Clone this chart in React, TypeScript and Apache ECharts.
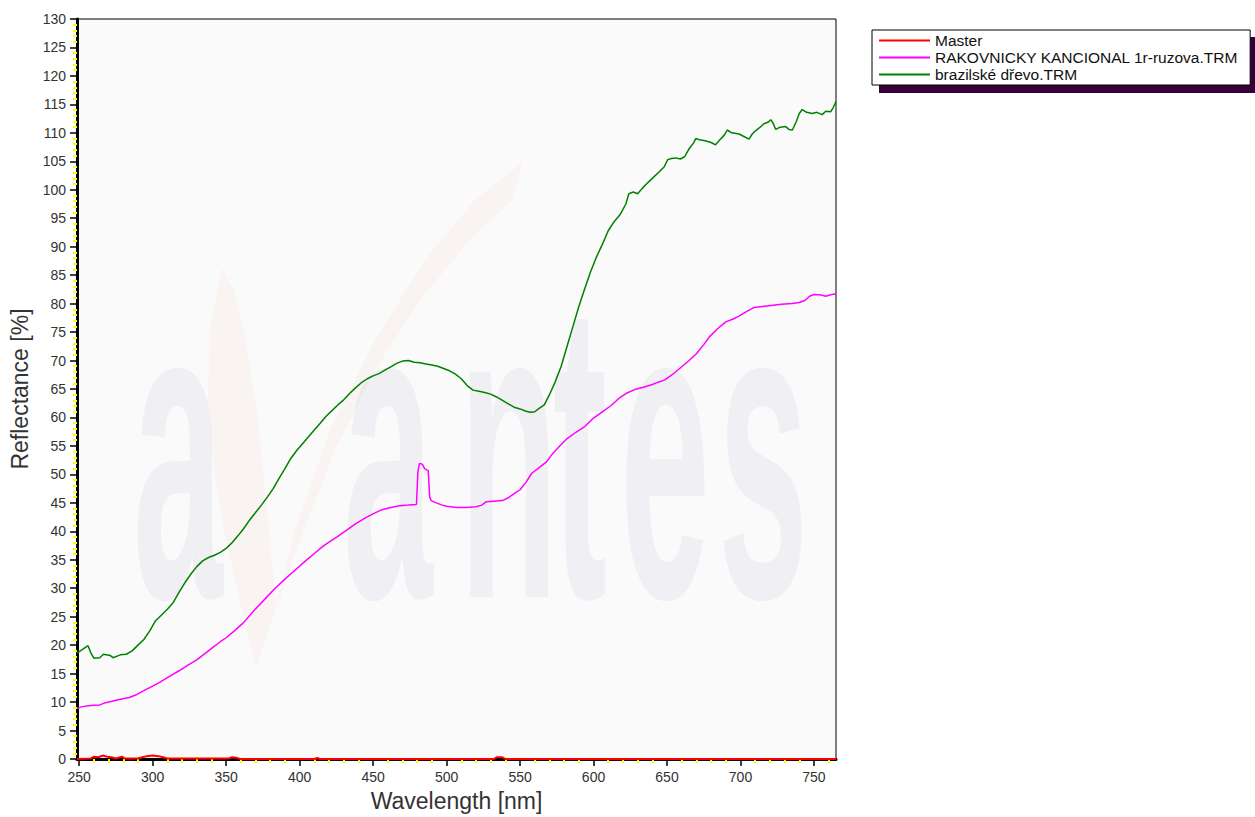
import React, { useEffect, useRef } from "react";
import * as echarts from "echarts";

const FONT = "'Liberation Sans', Arial, Helvetica, sans-serif";

const seriesNames = ["Master", "RAKOVNICKY KANCIONAL 1r-ruzova.TRM", "brazilské dřevo.TRM"];
const seriesColors = ["#ff0000", "#ff00ff", "#008000"];

const xMajorTicks = [250, 300, 350, 400, 450, 500, 550, 600, 650, 700, 750];
const xMinorTicks = [260, 270, 280, 290, 310, 320, 330, 340, 360, 370, 380, 390, 410, 420, 430, 440, 460, 470, 480, 490, 510, 520, 530, 540, 560, 570, 580, 590, 610, 620, 630, 640, 660, 670, 680, 690, 710, 720, 730, 740, 760];

const masterData: [number, number][] = [
  [248.5, 0], [258, 0.1], [260, 0.4], [263, 0.3], [266, 0.6], [269, 0.4], [272, 0.3], [275, 0.1],
  [279, 0.4], [281, 0.1], [290, 0.1], [293, 0.3], [296, 0.5], [300, 0.6], [304, 0.5], [307, 0.3],
  [310, 0.1], [352, 0.1], [354, 0.3], [357, 0.2], [360, 0], [410, 0], [412, 0.2], [414, 0],
  [532, 0], [534, 0.3], [538, 0.3], [540, 0], [765, 0],
];

const rakovnickyData: [number, number][] = [
  [248.5, 8.9], [252, 9.2], [258, 9.4], [264, 9.5], [268, 9.9], [273, 10.2], [278, 10.5], [284, 10.8],
  [289, 11.3], [294, 12.0], [300, 12.8], [305, 13.5], [312, 14.6], [318, 15.5], [324, 16.5], [330, 17.4],
  [336, 18.6], [341, 19.6], [346, 20.6], [350, 21.3], [356, 22.6], [362, 24.0], [369, 26.1], [376, 28.0],
  [383, 29.9], [390, 31.6], [397, 33.2], [404, 34.8], [410, 36.1], [416, 37.4], [420, 38.1], [426, 39.1],
  [432, 40.2], [438, 41.3], [445, 42.4], [451, 43.2], [456, 43.8], [462, 44.2], [468, 44.5], [474, 44.6],
  [479.5, 44.7], [480.5, 50.5], [481.5, 51.9], [483.5, 51.8], [485, 51.0], [486.5, 50.8], [487.5, 50.7],
  [488.5, 46.0], [489.5, 45.4], [493, 45.0], [497, 44.6], [500, 44.4], [507, 44.2], [513, 44.2], [520, 44.3],
  [524, 44.6], [527, 45.2], [532, 45.3], [538, 45.4], [542, 45.9], [546, 46.6], [550, 47.3], [554, 48.6],
  [558, 50.2], [563, 51.2], [568, 52.2], [572, 53.6], [577, 55.0], [582, 56.3], [588, 57.4], [594, 58.4],
  [600, 59.9], [606, 61.0], [612, 62.1], [617, 63.3], [622, 64.2], [628, 64.9], [634, 65.3], [640, 65.8],
  [644, 66.2], [648.5, 66.6], [654, 67.6], [660, 68.9], [665, 70.0], [670, 71.2], [675, 72.8], [679, 74.2],
  [684, 75.5], [690, 76.8], [695, 77.3], [699, 77.8], [704, 78.6], [709, 79.3], [715, 79.5], [722, 79.7],
  [728, 79.9], [735, 80.0], [740, 80.2], [744, 80.6], [747, 81.3], [750, 81.6], [755, 81.5], [758, 81.3],
  [762, 81.6], [765, 81.7],
];

const brazilData: [number, number][] = [
  [248.5, 18.6], [252, 19.2], [256, 19.9], [258, 18.6], [260, 17.7], [264, 17.8], [266.5, 18.4], [271, 18.2],
  [273, 17.8], [278, 18.3], [282, 18.4], [286, 19.0], [290, 20.0], [294, 21.0], [298, 22.5], [302, 24.3],
  [306, 25.3], [310, 26.3], [314, 27.5], [318, 29.3], [322, 31.0], [326, 32.5], [330, 33.8], [334, 34.8],
  [338, 35.4], [342, 35.8], [346, 36.3], [350, 37.0], [354, 38.0], [358, 39.2], [362, 40.5], [366, 42.0],
  [370, 43.3], [374, 44.6], [378, 46.0], [382, 47.5], [386, 49.3], [390, 51.0], [394, 52.8], [398, 54.2],
  [402, 55.4], [406, 56.6], [410, 57.8], [414, 59.0], [418, 60.2], [422, 61.2], [426, 62.2], [430, 63.1],
  [434, 64.2], [438, 65.2], [442, 66.1], [446, 66.8], [450, 67.3], [454, 67.7], [458, 68.3], [462, 68.9],
  [466, 69.5], [470, 69.9], [474, 70.0], [478, 69.7], [482, 69.6], [486, 69.4], [490, 69.2], [494, 69.0],
  [498, 68.6], [502, 68.2], [506, 67.6], [510, 66.8], [514, 65.6], [518, 64.8], [522, 64.6], [526, 64.4],
  [530, 64.1], [534, 63.6], [538, 63.0], [542, 62.4], [546, 61.8], [550, 61.5], [554, 61.1], [557, 60.9],
  [560, 61.0], [563, 61.6], [566.5, 62.2], [570, 64.0], [574, 66.3], [578, 69.0], [582, 72.5], [586, 76.0],
  [590, 79.5], [594, 82.6], [598, 85.6], [602, 88.2], [606, 90.4], [610, 92.8], [614, 94.4], [618, 95.6],
  [622, 97.5], [624, 99.3], [627, 99.6], [630, 99.3], [633, 100.2], [636, 101.0], [640, 102.0], [644, 103.0],
  [648, 104.0], [650.5, 105.3], [653, 105.5], [656, 105.6], [659, 105.4], [662, 105.8], [665, 107.2], [668, 108.2],
  [669.6, 109.0], [672, 108.8], [676, 108.6], [680, 108.3], [683, 107.9], [686, 108.8], [689, 109.6], [691, 110.5],
  [694, 110.0], [697, 109.9], [699, 109.8], [702, 109.4], [705.8, 108.9], [708, 109.8], [710.4, 110.4], [713, 110.9],
  [716, 111.6], [719, 111.9], [720.6, 112.3], [722, 111.8], [724, 110.6], [727, 111.0], [730.8, 111.1], [733, 110.6],
  [735.3, 110.5], [738, 112.0], [740, 113.4], [742, 114.1], [745, 113.6], [748.8, 113.4], [752, 113.6], [755.6, 113.2],
  [758, 113.8], [761.3, 113.7], [763, 114.4], [765, 115.5],
];

const seriesData = [masterData, rakovnickyData, brazilData];

export default function App() {
  const ref = useRef<HTMLDivElement>(null);

  useEffect(() => {
    if (!ref.current) return;
    const chart = echarts.init(ref.current, undefined, { renderer: "svg" });

    const wmFill = "#f0f0f4";
    const wmFont = `bold 426px ${FONT}`;
    const letters: [string, number][] = [["a", 133], ["a", 343], ["n", 459], ["t", 553], ["e", 620], ["s", 718]];

    const option: any = {
      animation: false,
      backgroundColor: "#ffffff",
      grid: {
        left: 77,
        right: 419,
        top: 19,
        bottom: 56,
        show: true,
        backgroundColor: "transparent",
        borderColor: "#000",
        borderWidth: 1,
      },
      graphic: [
        {
          type: "rect",
          z: -10,
          shape: { x: 77, y: 19, width: 759, height: 742 },
          style: { fill: "#fafafa" },
          silent: true,
        },
        ...letters.map(([ch, x]) => ({
          type: "text",
          z: -9,
          x,
          y: 449,
          scaleX: 0.38,
          silent: true,
          style: { text: ch, font: wmFont, fill: wmFill, verticalAlign: "middle", align: "left" },
        })),
        {
          type: "polygon",
          z: -8,
          silent: true,
          shape: {
            points: [
              [222, 268], [210, 330], [208, 400], [214, 470], [226, 540], [242, 610], [256, 668],
              [275, 610], [295, 530], [330, 430], [375, 340], [425, 260], [475, 200], [523, 162],
              [512, 200], [470, 240], [420, 300], [375, 370], [335, 450], [300, 540], [276, 610],
              [268, 520], [258, 420], [246, 340], [234, 290],
            ],
          },
          style: { fill: "rgba(240,120,100,0.05)" },
        },
        {
          type: "rect",
          z: -10,
          silent: true,
          shape: { x: 879, y: 37, width: 380, height: 56 },
          style: { fill: "#36003a" },
        },
      ],
      legend: {
        orient: "vertical",
        left: 872,
        top: 30,
        padding: [2, 12, 2, 7],
        itemGap: 0,
        itemWidth: 51,
        itemHeight: 2,
        icon: "rect",
        selectedMode: false,
        backgroundColor: "#ffffff",
        borderColor: "#000",
        borderWidth: 1,
        borderRadius: 0,
        textStyle: { fontFamily: FONT, fontSize: 15.5, color: "#111", lineHeight: 17 },
        data: seriesNames,
      },
      xAxis: [
        {
          type: "value",
          min: 248.5,
          max: 765,
          position: "bottom",
          name: "Wavelength [nm]",
          nameLocation: "middle",
          nameGap: 30,
          nameTextStyle: { fontFamily: FONT, fontSize: 23, color: "#333" },
          axisLine: { show: true, onZero: false, lineStyle: { color: "#000", width: 3 } },
          axisTick: { show: true, customValues: xMajorTicks, length: 7, lineStyle: { color: "#000", width: 1.5 } },
          axisLabel: { show: true, customValues: xMajorTicks, fontFamily: FONT, fontSize: 14, color: "#333", margin: 11 },
          splitLine: { show: false },
        },
        {
          type: "value",
          min: 248.5,
          max: 765,
          position: "bottom",
          axisLine: { show: false, onZero: false },
          axisTick: { show: true, customValues: xMinorTicks, length: 4, lineStyle: { color: "#ffff00", width: 2 } },
          axisLabel: { show: false },
          splitLine: { show: false },
        },
      ],
      yAxis: {
        type: "value",
        min: 0,
        max: 130,
        interval: 5,
        name: "Reflectance [%]",
        nameLocation: "middle",
        nameRotate: 90,
        nameGap: 37,
        nameTextStyle: { fontFamily: FONT, fontSize: 23, color: "#333" },
        axisLine: { show: true, onZero: false, lineStyle: { color: "#000", width: 3 } },
        axisTick: { show: true, length: 7, lineStyle: { color: "#000", width: 1.5 } },
        minorTick: { show: true, splitNumber: 5, length: 4, lineStyle: { color: "#ffff00", width: 2 } },
        axisLabel: { fontFamily: FONT, fontSize: 14, color: "#333", margin: 11 },
        splitLine: { show: false },
        minorSplitLine: { show: false },
      },
      series: seriesNames.map((name, i) => ({
        name,
        type: "line",
        xAxisIndex: 0,
        data: seriesData[i],
        showSymbol: false,
        symbol: "none",
        z: i === 0 ? 5 : 3,
        lineStyle: { color: seriesColors[i], width: i === 0 ? 2 : 1.5 },
        itemStyle: { color: seriesColors[i] },
      })),
    };

    chart.setOption(option);
    return () => chart.dispose();
  }, []);

  return (
    <div
      ref={ref}
      style={{ position: "absolute", left: 0, top: 0, width: 1255, height: 817 }}
    />
  );
}
